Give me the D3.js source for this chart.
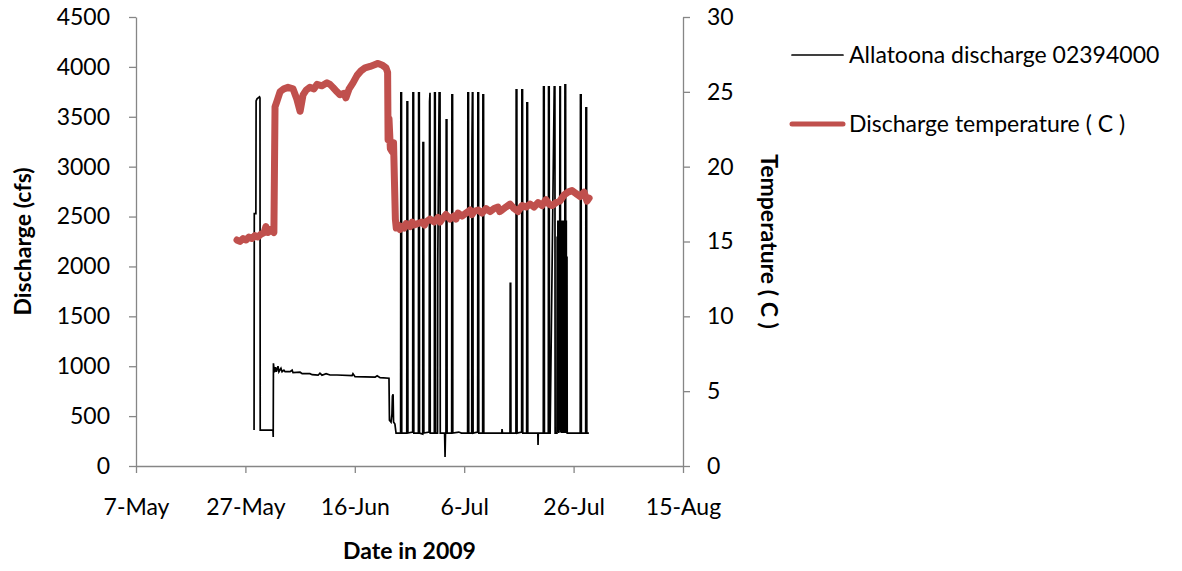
<!DOCTYPE html>
<html>
<head>
<meta charset="utf-8">
<script src="https://cdn.jsdelivr.net/npm/d3@7"></script>
<style>
  body { margin: 0; background: #fff; }
  svg text { font-family: Lato, "Open Sans", sans-serif; fill: #000; }
</style>
</head>
<body>
<div id="chart"></div>
<script>
const width = 1182;
const height = 571;
const plot = { left: 136, right: 683, top: 17, bottom: 466 };

const xTicks = ["2009-05-07", "2009-05-27", "2009-06-16", "2009-07-06", "2009-07-26", "2009-08-15"];
const dischargeTicks = [0, 500, 1000, 1500, 2000, 2500, 3000, 3500, 4000, 4500];
const tempTicks = [0, 5, 10, 15, 20, 25, 30];
const seriesNames = ["Allatoona discharge 02394000", "Discharge temperature ( C )"];

// [month-day hour, cfs]
const discharge = [
  ["05-28 14", 360], ["05-28 15", 2530], ["05-28 22", 2530], ["05-28 23", 3660],
  ["05-29 03", 3680], ["05-29 14", 3700], ["05-29 16", 3690], ["05-29 17", 360],
  ["06-01 01", 360], ["06-01 02", 290], ["06-01 03", 1030], ["06-01 07", 940],
  ["06-01 12", 990], ["06-01 16", 945], ["06-01 23", 1000], ["06-02 03", 945],
  ["06-02 12", 980], ["06-02 17", 945], ["06-03 01", 960], ["06-03 06", 945],
  ["06-04 04", 945], ["06-04 13", 960], ["06-04 17", 935], ["06-06 00", 940],
  ["06-06 09", 925], ["06-07 19", 925], ["06-08 05", 915], ["06-09 07", 910],
  ["06-09 15", 930], ["06-10 00", 910], ["06-10 18", 925], ["06-11 11", 912],
  ["06-12 18", 912], ["06-15 12", 905], ["06-15 16", 925], ["06-16 01", 895],
  ["06-19 17", 890], ["06-20 02", 905], ["06-20 15", 885], ["06-22 06", 880],
  ["06-22 08", 460], ["06-22 15", 440], ["06-22 19", 520], ["06-22 21", 700],
  ["06-23 00", 720], ["06-23 02", 440], ["06-23 08", 420], ["06-23 13", 330],
  ["06-24 09", 330], ["06-24 10", 3740], ["06-24 13", 3740], ["06-24 14", 330],
  ["06-25 12", 330], ["06-25 13", 3650], ["06-25 16", 3650], ["06-25 17", 330],
  ["06-26 14", 340], ["06-26 15", 3740], ["06-26 18", 3740], ["06-26 19", 330],
  ["06-27 15", 330], ["06-27 16", 3740], ["06-27 19", 3740], ["06-27 20", 330],
  ["06-28 10", 320], ["06-28 11", 3240], ["06-28 14", 3240], ["06-28 15", 330],
  ["06-29 14", 340], ["06-29 16", 3650], ["06-29 18", 3740], ["06-29 19", 330],
  ["06-30 13", 330], ["06-30 14", 3740], ["06-30 17", 3740], ["06-30 18", 330],
  ["07-01 03", 330], ["07-01 04", 2030], ["07-01 10", 3740], ["07-01 14", 3740], ["07-01 15", 330],
  ["07-02 10", 330], ["07-02 12", 90], ["07-02 14", 330],
  ["07-02 16", 330], ["07-02 17", 3470], ["07-02 20", 3470], ["07-02 21", 330],
  ["07-03 17", 330], ["07-03 18", 3720], ["07-03 21", 3720], ["07-03 22", 330],
  ["07-05 00", 340], ["07-05 12", 330],
  ["07-06 15", 330], ["07-06 16", 3740], ["07-06 19", 3740], ["07-06 20", 330],
  ["07-07 09", 330], ["07-07 10", 3240], ["07-07 12", 3740], ["07-07 14", 3740], ["07-07 15", 330],
  ["07-08 11", 340], ["07-08 12", 3740], ["07-08 15", 3740], ["07-08 16", 330],
  ["07-09 09", 330], ["07-09 10", 3720], ["07-09 13", 3720], ["07-09 14", 330],
  ["07-12 21", 330], ["07-12 22", 370], ["07-13 00", 330],
  ["07-14 09", 330], ["07-14 10", 1830], ["07-14 12", 1830], ["07-14 13", 330],
  ["07-15 11", 330], ["07-15 12", 3770], ["07-15 15", 3770], ["07-15 16", 330],
  ["07-16 12", 340], ["07-16 13", 3770], ["07-16 16", 3770], ["07-16 17", 330],
  ["07-17 10", 330], ["07-17 11", 3640], ["07-17 14", 3640], ["07-17 15", 330],
  ["07-19 11", 330], ["07-19 12", 210], ["07-19 13", 330],
  ["07-20 11", 330], ["07-20 12", 3800], ["07-20 15", 3800], ["07-20 16", 330],
  ["07-21 09", 330], ["07-21 10", 3800], ["07-21 13", 3800], ["07-21 14", 330],
  ["07-21 17", 330], ["07-22 11", 3800], ["07-22 14", 3800], ["07-22 15", 330],
  ["07-22 23", 330], ["07-23 00", 2300], ["07-23 01", 350], ["07-23 03", 2460],
  ["07-23 04", 340], ["07-23 06", 2200], ["07-23 07", 330], ["07-23 09", 2460],
  ["07-23 10", 360], ["07-23 12", 3800], ["07-23 14", 3800], ["07-23 15", 340],
  ["07-23 17", 2460], ["07-23 18", 330], ["07-23 20", 2400], ["07-23 21", 350],
  ["07-23 23", 2460], ["07-24 00", 330], ["07-24 02", 2300], ["07-24 03", 340],
  ["07-24 05", 2460], ["07-24 06", 330], ["07-24 08", 2200], ["07-24 09", 330],
  ["07-24 10", 3820], ["07-24 13", 3820], ["07-24 14", 330], ["07-24 16", 2460],
  ["07-24 17", 330], ["07-24 19", 2100], ["07-24 20", 330],
  ["07-27 05", 330], ["07-27 06", 3720], ["07-27 09", 3720], ["07-27 10", 330],
  ["07-28 05", 330], ["07-28 06", 3590], ["07-28 09", 3590], ["07-28 10", 330],
  ["07-28 19", 330]
];

// [month-day hour, deg C]
const temperature = [
  ["05-25 11", 15.1], ["05-26 00", 15.0], ["05-26 14", 15.2], ["05-27 03", 15.1],
  ["05-27 16", 15.3], ["05-28 05", 15.2], ["05-28 18", 15.4], ["05-29 07", 15.3],
  ["05-29 21", 15.5], ["05-30 10", 15.6], ["05-30 18", 16.0], ["05-31 03", 15.6],
  ["05-31 16", 15.8], ["06-01 05", 15.6], ["06-01 10", 24.0], ["06-01 19", 24.4],
  ["06-02 08", 25.0], ["06-03 01", 25.2], ["06-03 19", 25.3], ["06-04 17", 25.2],
  ["06-05 10", 24.5], ["06-06 00", 23.7], ["06-06 13", 24.8], ["06-07 02", 25.1],
  ["06-07 19", 25.3], ["06-08 13", 25.2], ["06-09 02", 25.5], ["06-10 00", 25.4],
  ["06-10 22", 25.6], ["06-11 11", 25.5], ["06-12 00", 25.3], ["06-12 18", 25.0],
  ["06-13 07", 24.8], ["06-14 01", 24.9], ["06-14 09", 24.6], ["06-14 23", 25.2],
  ["06-15 16", 25.6], ["06-16 10", 26.1], ["06-17 03", 26.4], ["06-17 21", 26.6],
  ["06-18 19", 26.7], ["06-19 12", 26.8], ["06-20 06", 26.9], ["06-20 23", 26.8],
  ["06-21 17", 26.6], ["06-22 00", 26.3], ["06-22 02", 21.8], ["06-22 06", 23.2],
  ["06-22 12", 21.2], ["06-22 20", 21.0], ["06-23 02", 21.6], ["06-23 06", 19.0],
  ["06-23 10", 16.5], ["06-23 14", 15.9], ["06-23 22", 16.1], ["06-24 06", 15.8],
  ["06-24 15", 16.0], ["06-25 01", 15.9], ["06-25 09", 16.2], ["06-26 02", 16.0],
  ["06-26 12", 16.3], ["06-26 20", 16.1], ["06-27 13", 16.2], ["06-28 07", 16.3],
  ["06-28 18", 16.1], ["06-29 00", 16.3], ["06-29 18", 16.5], ["06-30 12", 16.3],
  ["07-01 05", 16.6], ["07-01 14", 16.3], ["07-01 23", 16.5], ["07-02 16", 16.8],
  ["07-03 10", 16.5], ["07-04 03", 16.7], ["07-04 12", 16.5], ["07-04 21", 16.9],
  ["07-05 14", 16.7], ["07-06 08", 16.9], ["07-07 02", 17.1], ["07-07 10", 16.8],
  ["07-07 19", 17.0], ["07-08 13", 17.1], ["07-09 06", 16.9], ["07-10 00", 17.2],
  ["07-10 17", 17.0], ["07-11 11", 17.2], ["07-12 04", 17.3], ["07-12 12", 17.0],
  ["07-12 22", 17.1], ["07-13 15", 17.3], ["07-14 09", 17.5], ["07-15 03", 17.2],
  ["07-15 20", 17.0], ["07-16 14", 17.4], ["07-17 07", 17.3], ["07-18 01", 17.5],
  ["07-18 18", 17.3], ["07-19 12", 17.6], ["07-20 05", 17.4], ["07-20 23", 17.8],
  ["07-21 12", 17.5], ["07-22 01", 17.4], ["07-22 19", 17.6], ["07-23 12", 17.7],
  ["07-24 06", 18.1], ["07-24 23", 18.3], ["07-25 17", 18.4], ["07-26 11", 18.2],
  ["07-27 04", 18.0], ["07-27 22", 18.3], ["07-28 11", 17.7], ["07-28 20", 17.9]
];

const parseTime = d3.timeParse("%Y-%m-%d %H");
const parseDay = d3.timeParse("%Y-%m-%d");
const toDate = s => parseTime("2009-" + s);

const svg = d3.select("#chart")
  .append("svg")
  .attr("width", width)
  .attr("height", height);

const x = d3.scaleTime()
  .domain([parseDay(xTicks[0]), parseDay(xTicks[xTicks.length - 1])])
  .range([plot.left, plot.right]);

const yQ = d3.scaleLinear()
  .domain([0, 4500])
  .range([plot.bottom, plot.top]);

const yT = d3.scaleLinear()
  .domain([0, 30])
  .range([plot.bottom, plot.top]);

const axisColor = "#868686";
const fontSize = 23;

function styleAxis(g) {
  g.selectAll("path, line").attr("stroke", axisColor).attr("stroke-width", 1.3);
  g.selectAll("text").attr("font-size", fontSize).attr("fill", "#000");
}

svg.append("g")
  .attr("transform", `translate(${plot.left},0)`)
  .call(d3.axisLeft(yQ).tickValues(dischargeTicks).tickFormat(d3.format("d"))
    .tickSize(7).tickSizeOuter(0).tickPadding(19))
  .call(styleAxis);

svg.append("g")
  .attr("transform", `translate(${plot.right},0)`)
  .call(d3.axisRight(yT).tickValues(tempTicks).tickFormat(d3.format("d"))
    .tickSize(7).tickSizeOuter(0).tickPadding(17))
  .call(styleAxis);

svg.append("g")
  .attr("transform", `translate(0,${plot.bottom})`)
  .call(d3.axisBottom(x).tickValues(xTicks.map(parseDay)).tickFormat(d3.timeFormat("%-d-%b"))
    .tickSize(7).tickSizeOuter(0).tickPadding(26))
  .call(styleAxis);

// series
const qLine = d3.line()
  .x(d => x(toDate(d[0])))
  .y(d => yQ(d[1]));

const tLine = d3.line()
  .x(d => x(toDate(d[0])))
  .y(d => yT(d[1]));

svg.append("path")
  .datum(discharge)
  .attr("d", qLine)
  .attr("fill", "none")
  .attr("stroke", "#000")
  .attr("stroke-width", 1.7);

svg.append("path")
  .datum(temperature)
  .attr("d", tLine)
  .attr("fill", "none")
  .attr("stroke", "#C0504D")
  .attr("stroke-width", 7)
  .attr("stroke-linejoin", "round")
  .attr("stroke-linecap", "round");

// axis titles
svg.append("text")
  .attr("transform", `translate(23,${(plot.top + plot.bottom) / 2}) rotate(-90)`)
  .attr("text-anchor", "middle")
  .attr("dy", "0.35em")
  .attr("font-size", fontSize)
  .attr("font-weight", "bold")
  .text("Discharge (cfs)");

svg.append("text")
  .attr("transform", `translate(769,${(plot.top + plot.bottom) / 2}) rotate(90)`)
  .attr("text-anchor", "middle")
  .attr("dy", "0.35em")
  .attr("font-size", fontSize)
  .attr("font-weight", "bold")
  .text("Temperature ( C )");

svg.append("text")
  .attr("x", (plot.left + plot.right) / 2)
  .attr("y", 551)
  .attr("text-anchor", "middle")
  .attr("dy", "0.35em")
  .attr("font-size", fontSize)
  .attr("font-weight", "bold")
  .text("Date in 2009");

// legend
const legend = svg.append("g");
const legendRows = [
  { name: seriesNames[0], color: "#000", w: 1.7, y: 55 },
  { name: seriesNames[1], color: "#C0504D", w: 5, y: 124 }
];
legendRows.forEach(r => {
  legend.append("line")
    .attr("x1", 792).attr("x2", 843)
    .attr("y1", r.y).attr("y2", r.y)
    .attr("stroke", r.color)
    .attr("stroke-width", r.w)
    .attr("stroke-linecap", "round");
  legend.append("text")
    .attr("x", 849)
    .attr("y", r.y)
    .attr("dy", "0.35em")
    .attr("font-size", fontSize)
    .text(r.name);
});
</script>
</body>
</html>
